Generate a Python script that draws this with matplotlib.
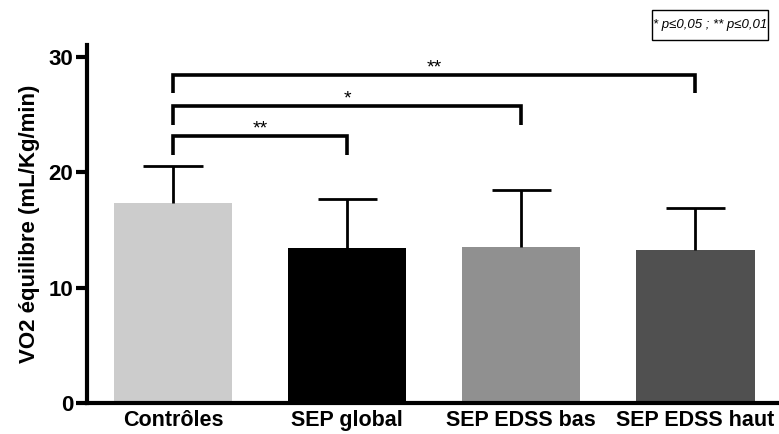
import matplotlib
matplotlib.use('Agg')
import matplotlib.pyplot as plt
from matplotlib.patches import Rectangle
import numpy as np

plt.rcParams['font.family'] = ['Liberation Sans', 'DejaVu Sans']

groups = ['Contrôles', 'SEP global', 'SEP EDSS bas', 'SEP EDSS haut']
means = [17.35, 13.45, 13.55, 13.25]
sd = [3.2, 4.2, 4.9, 3.65]
colors = ['#cccccc', '#000000', '#909090', '#505050']

# comparisons: (group a, group b, bracket height, drop, label)
comparisons = [(0, 3, 28.45, 1.55, '**'),
               (0, 2, 25.75, 1.65, '*'),
               (0, 1, 23.15, 1.65, '**')]

fig = plt.figure(figsize=(7.79, 4.34), dpi=100)
ax = fig.add_axes([87 / 779, 1 - 403 / 434, 1 - 87 / 779, (403 - 45) / 434])

x = np.arange(len(groups))
m = np.array(means)
tops = m + np.array(sd)
ax.bar(x, m, width=0.68, color=colors, zorder=2)
# upper error bars only, no cap at bar top
ax.vlines(x, m, tops, color='black', lw=2, zorder=3)
ax.hlines(tops, x - 0.17, x + 0.17, color='black', lw=2, zorder=3)

for a, b, h, d, lab in comparisons:
    ax.plot([a, a, b, b], [h - d, h, h, h - d], color='black', lw=2.6,
            solid_capstyle='butt', solid_joinstyle='miter', zorder=3)
    ax.text((a + b) / 2, h - 0.1, lab, ha='center', va='bottom',
            fontsize=14)

ax.set_xlim(-0.494, 3.48)
ax.set_ylim(0, 31.04)
ax.set_yticks([0, 10, 20, 30])
ax.set_xticks(x)
ax.set_xticklabels(groups, fontsize=15.5, fontweight='bold')
for lab in ax.get_yticklabels():
    lab.set_fontsize(16)
    lab.set_fontweight('bold')
ax.tick_params(axis='y', length=8, width=3, pad=2)
ax.tick_params(axis='x', length=0, pad=5)
ax.spines['top'].set_visible(False)
ax.spines['right'].set_visible(False)
ax.spines['left'].set_linewidth(3)
ax.spines['bottom'].set_linewidth(3)
ax.set_ylabel('VO2 équilibre (mL/Kg/min)', fontsize=16, fontweight='bold', labelpad=6)

# significance key box
W, H = 779, 434
fig.patches.append(Rectangle((652 / W, 1 - 40 / H), 116 / W, 30 / H,
                             transform=fig.transFigure, fc='white', ec='black', lw=1))
fig.text(710 / W, 1 - 25 / H, '* p≤0,05 ; ** p≤0,01', ha='center', va='center',
         fontsize=9.5, style='italic')

fig.savefig('out.png', dpi=100)
